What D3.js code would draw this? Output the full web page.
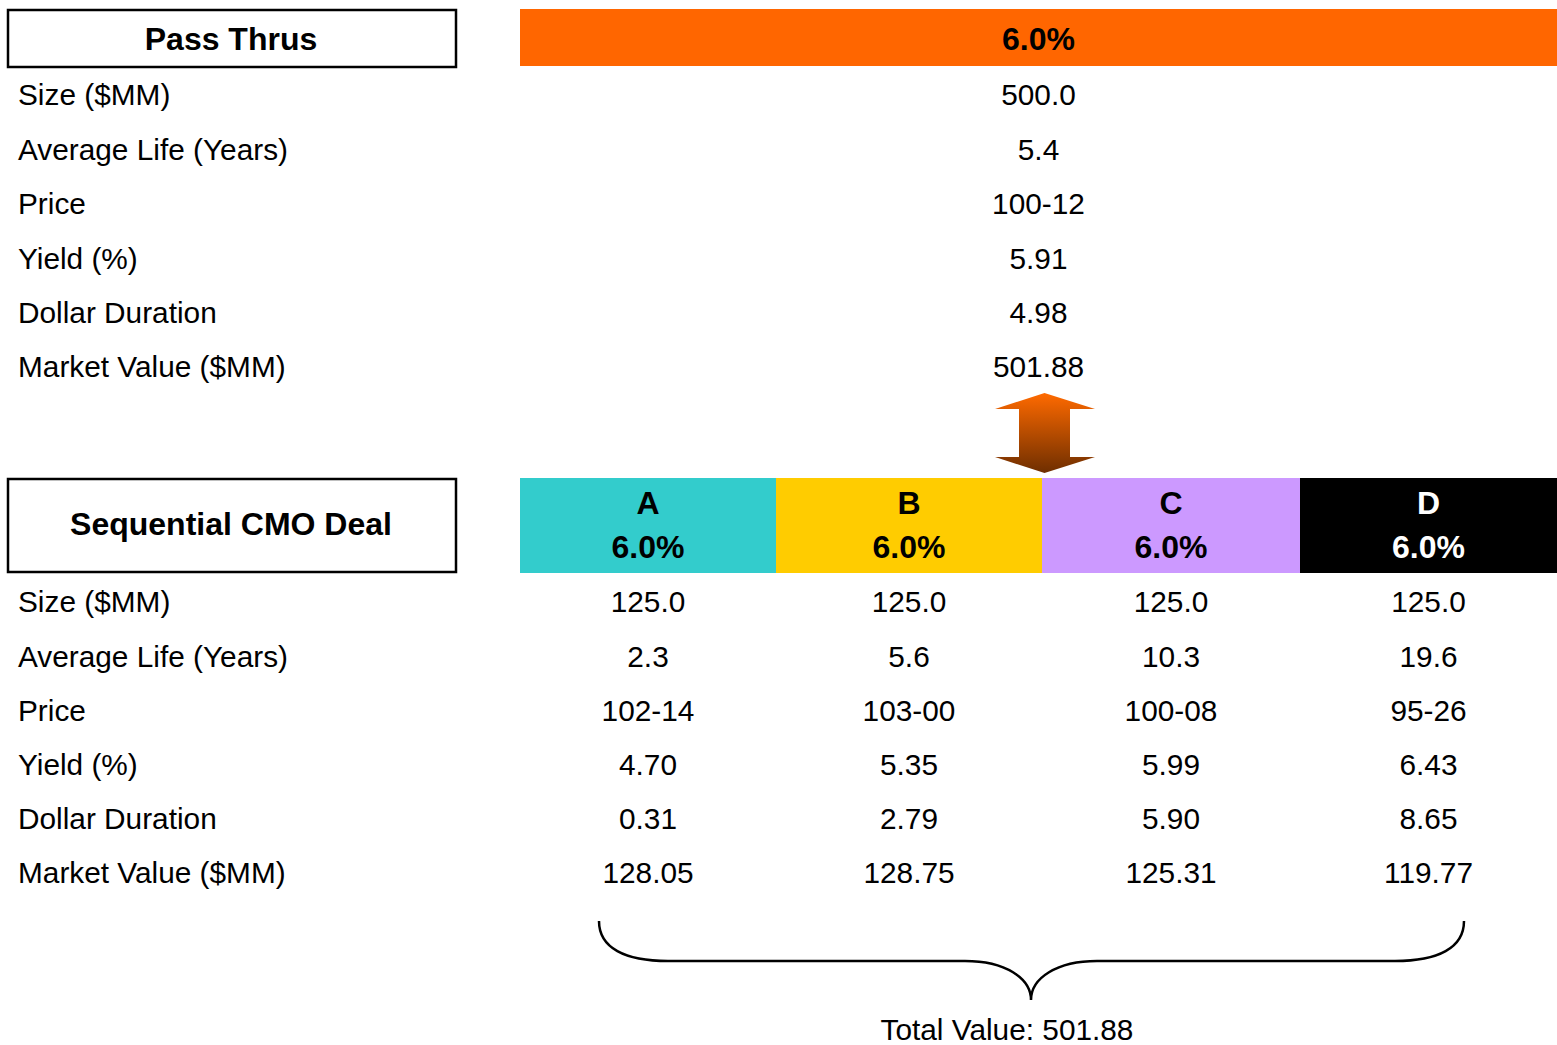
<!DOCTYPE html>
<html>
<head>
<meta charset="utf-8">
<script src="https://cdn.jsdelivr.net/npm/d3@7"></script>
<style>
  html, body { margin: 0; padding: 0; background: #fff; }
  svg { display: block; font-family: "Liberation Sans", Arial, sans-serif; }
</style>
</head>
<body>
<svg id="chart" width="1557" height="1045"></svg>
<script>
// Row metrics shown for both the collateral and the CMO tranches
const metrics = ["Size ($MM)", "Average Life (Years)", "Price", "Yield (%)", "Dollar Duration", "Market Value ($MM)"];

// Pass-through collateral
const passCoupon = 6.0;
const passValues = ["500.0", "5.4", "100-12", "5.91", "4.98", "501.88"];

// Sequential CMO tranches
const tranches = ["A", "B", "C", "D"];
const trancheCoupons = [6.0, 6.0, 6.0, 6.0];
const trancheColors = ["#33CCCC", "#FFCC00", "#CC99FF", "#000000"];
const trancheText = ["#000000", "#000000", "#000000", "#ffffff"];
const trancheSize = [125.0, 125.0, 125.0, 125.0];
const trancheAvgLife = [2.3, 5.6, 10.3, 19.6];
const tranchePrice = ["102-14", "103-00", "100-08", "95-26"];
const trancheYield = [4.70, 5.35, 5.99, 6.43];
const trancheDuration = [0.31, 2.79, 5.90, 8.65];
const trancheMV = [128.05, 128.75, 125.31, 119.77];

const f1 = d3.format(".1f"), f2 = d3.format(".2f");
const trancheRows = [
  trancheSize.map(f1),
  trancheAvgLife.map(f1),
  tranchePrice,
  trancheYield.map(f2),
  trancheDuration.map(f2),
  trancheMV.map(f2)
];
const totalValue = d3.sum(trancheMV);

const svg = d3.select("#chart");
const regFS = 29.8, boldFS = 32;

// Column edges of the tranche header blocks
const colEdges = [520, 776, 1042, 1300, 1557];
const colCenter = i => (colEdges[i] + colEdges[i + 1]) / 2;

// Row positions (text centres)
const yTop = d3.scaleLinear().domain([0, 5]).range([95, 367]);
const yBot = d3.scaleLinear().domain([0, 5]).range([602, 873]);

function txt(g, x, y, s, opts = {}) {
  return g.append("text")
    .attr("x", x).attr("y", y).attr("dy", "0.35em")
    .attr("text-anchor", opts.anchor || "middle")
    .attr("font-size", opts.size || regFS)
    .attr("font-weight", opts.bold ? "bold" : "normal")
    .attr("fill", opts.fill || "#000")
    .text(s);
}

// ---- Pass-through block ----
svg.append("rect").attr("x", 8).attr("y", 10).attr("width", 448).attr("height", 57)
  .attr("fill", "#fff").attr("stroke", "#000").attr("stroke-width", 2.5);
txt(svg, 231, 39, "Pass Thrus", { bold: true, size: boldFS });

svg.append("rect").attr("x", colEdges[0]).attr("y", 9)
  .attr("width", colEdges[4] - colEdges[0]).attr("height", 57).attr("fill", "#FF6600");
txt(svg, (colEdges[0] + colEdges[4]) / 2, 39, f1(passCoupon) + "%", { bold: true, size: boldFS });

metrics.forEach((m, i) => {
  txt(svg, 18, yTop(i), m, { anchor: "start" });
  txt(svg, (colEdges[0] + colEdges[4]) / 2, yTop(i), passValues[i]);
});

// ---- Double-headed arrow between the two blocks ----
const defs = svg.append("defs");
const grad = defs.append("linearGradient").attr("id", "arrowGrad")
  .attr("x1", 0).attr("y1", 0).attr("x2", 0).attr("y2", 1);
grad.append("stop").attr("offset", "0%").attr("stop-color", "#FF6A00");
grad.append("stop").attr("offset", "100%").attr("stop-color", "#6E2E00");

const ax = 1044.5;
const arrowPts = [
  [ax, 393], [1095, 409], [1070, 409], [1070, 457], [1095, 457],
  [ax, 473], [995, 457], [1019, 457], [1019, 409], [995, 409]
];
svg.append("path").attr("d", d3.line()(arrowPts) + "Z").attr("fill", "url(#arrowGrad)");

// ---- Sequential CMO block ----
svg.append("rect").attr("x", 8).attr("y", 479).attr("width", 448).attr("height", 93)
  .attr("fill", "#fff").attr("stroke", "#000").attr("stroke-width", 2.5);
txt(svg, 231, 524, "Sequential CMO Deal", { bold: true, size: boldFS });

tranches.forEach((t, i) => {
  svg.append("rect").attr("x", colEdges[i]).attr("y", 478)
    .attr("width", colEdges[i + 1] - colEdges[i]).attr("height", 95)
    .attr("fill", trancheColors[i]);
  txt(svg, colCenter(i), 503, t, { bold: true, size: boldFS, fill: trancheText[i] });
  txt(svg, colCenter(i), 547, f1(trancheCoupons[i]) + "%", { bold: true, size: boldFS, fill: trancheText[i] });
});

metrics.forEach((m, r) => {
  txt(svg, 18, yBot(r), m, { anchor: "start" });
  trancheRows[r].forEach((v, i) => txt(svg, colCenter(i), yBot(r), v));
});

// ---- Brace summing the tranche market values ----
const bx0 = 599, bx1 = 1464, tipX = 1031, topY = 921, midY = 961, tipY = 1000;
const brace = d3.path();
brace.moveTo(bx0, topY);
brace.bezierCurveTo(bx0, 948, 625, midY, 668, midY);
brace.lineTo(965, midY);
brace.bezierCurveTo(1005, midY, tipX, 978, tipX, tipY);
brace.bezierCurveTo(tipX, 978, 1057, midY, 1097, midY);
brace.lineTo(1395, midY);
brace.bezierCurveTo(1438, midY, bx1, 948, bx1, topY);
svg.append("path").attr("d", brace.toString())
  .attr("fill", "none").attr("stroke", "#000").attr("stroke-width", 2.5);

txt(svg, 1007, 1030, "Total Value: " + f2(totalValue));
</script>
</body>
</html>
